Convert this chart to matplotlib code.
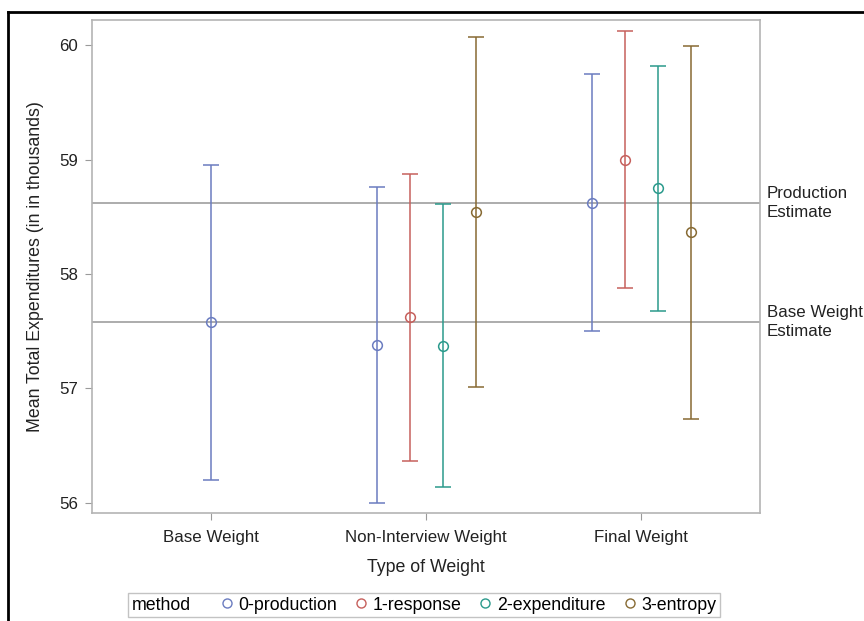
import matplotlib
matplotlib.use("Agg")
import matplotlib.pyplot as plt
from matplotlib.lines import Line2D
from matplotlib.offsetbox import HPacker

plt.rcParams['font.family'] = ['Liberation Sans', 'DejaVu Sans']

categories = ["Base Weight", "Non-Interview Weight", "Final Weight"]
methods = ["0-production", "1-response", "2-expenditure", "3-entropy"]

# per method: values for each category (None = missing)
means = {
    "0-production": [57.58, 57.38, 58.62],
    "1-response": [None, 57.62, 59.00],
    "2-expenditure": [None, 57.37, 58.75],
    "3-entropy": [None, 58.54, 58.37],
}
lowers = {
    "0-production": [56.20, 56.00, 57.50],
    "1-response": [None, 56.37, 57.88],
    "2-expenditure": [None, 56.14, 57.68],
    "3-entropy": [None, 57.01, 56.73],
}
uppers = {
    "0-production": [58.95, 58.76, 59.75],
    "1-response": [None, 58.87, 60.12],
    "2-expenditure": [None, 58.61, 59.82],
    "3-entropy": [None, 60.07, 59.99],
}
ref_values = [58.62, 57.58]
ref_labels = ["Production\nEstimate", "Base Weight\nEstimate"]
yticks = [56, 57, 58, 59, 60]

colors = ["#6b7cc0", "#c6605c", "#2b9a8c", "#876a33"]
offsets = [-0.228, -0.075, 0.078, 0.231]
text_color = '#222222'

fig = plt.figure(figsize=(8.64, 6.21), dpi=100)
ax = fig.add_axes([92/864, 1 - 513/621, (760-92)/864, (513-20)/621])

for i, m in enumerate(methods):
    for c in range(len(categories)):
        mu = means[m][c]
        if mu is None:
            continue
        present = [mm for mm in methods if means[mm][c] is not None]
        x = c if len(present) == 1 else c + offsets[i]
        ax.errorbar([x], [mu], yerr=[[mu - lowers[m][c]], [uppers[m][c] - mu]],
                    fmt='o', color=colors[i], mfc='none', mec=colors[i], ms=7.0,
                    mew=1.1, elinewidth=1.1, capsize=5.8, capthick=1.1, zorder=3)

for v, lab in zip(ref_values, ref_labels):
    ax.axhline(v, color='#a6a6a6', lw=1.3, zorder=1)
    ax.annotate(lab, xy=(1.0, v), xycoords=('axes fraction', 'data'),
                xytext=(5, 0), textcoords='offset points', ha='left', va='center',
                fontsize=12.2, color=text_color, linespacing=1.4,
                annotation_clip=False)

ax.set_xlim(-0.553, 2.553)
ax.set_ylim(55.912, 60.219)
ax.set_xticks(range(len(categories)))
ax.set_xticklabels(categories)
ax.set_yticks(yticks)
ax.set_yticklabels([str(t) for t in yticks])
for s in ax.spines.values():
    s.set_color('#b4b4b4')
    s.set_linewidth(1.2)
ax.tick_params(colors='#9a9a9a', labelcolor=text_color, labelsize=12.2, length=5, width=0.8, pad=5)
ax.tick_params(axis='x', pad=7)
ax.set_xlabel("Type of Weight", fontsize=12.8, color=text_color, labelpad=10)
ax.set_ylabel("Mean Total Expenditures (in in thousands)", fontsize=12.8, color=text_color, labelpad=11)

handles = [Line2D([], [], marker='o', ls='none', mfc='none', mec=colors[i], ms=6.5, mew=1.0)
           for i in range(len(methods))]
leg = fig.legend(handles, methods, loc='center', bbox_to_anchor=(424/864, 1 - 605/621),
                 ncol=4, title="method", fontsize=12.8, title_fontsize=12.8,
                 frameon=True, fancybox=False, edgecolor='#b4b4b4', handletextpad=0.05,
                 columnspacing=0.75, handlelength=1.2, borderpad=0.2, borderaxespad=0)
leg.get_frame().set_linewidth(1.0)
box = leg._legend_box
children = box.get_children()
title_box, entries = children[0], children[1]
box._children = [HPacker(pad=0, sep=18, children=[title_box, entries], align="center")]

# outer black frame (top and left)
fig.add_artist(Line2D([8/864, 8/864], [0, 1 - 12/621], transform=fig.transFigure, color='black', lw=2))
fig.add_artist(Line2D([8/864, 1], [1 - 12/621, 1 - 12/621], transform=fig.transFigure, color='black', lw=2))

fig.savefig("out.png", dpi=100)
